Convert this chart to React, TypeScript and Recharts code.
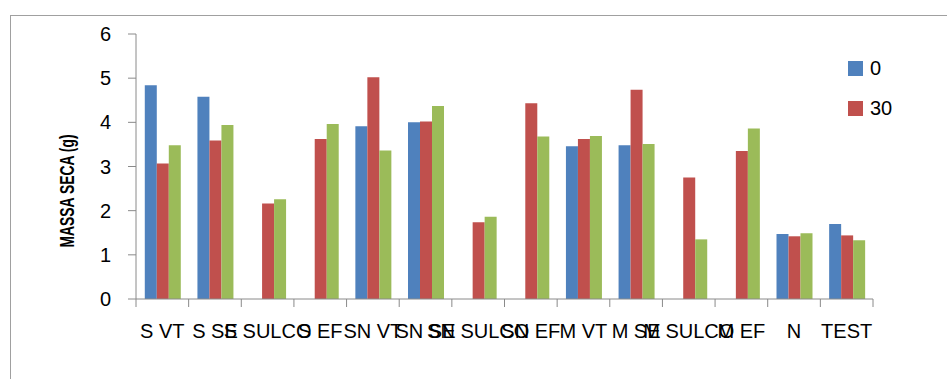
import React from "react";
import { BarChart, Bar, XAxis, YAxis } from "recharts";

// categorias e valores (g)
const categories = ["S VT", "S SE", "S SULCO", "S EF", "SN VT", "SN SE", "SN SULCO", "SN EF", "M VT", "M SE", "M SULCO", "M EF", "N", "TEST"];
const dose0 = [4.84, 4.58, null, null, 3.91, 4.0, null, null, 3.46, 3.48, null, null, 1.47, 1.7];
const dose30 = [3.07, 3.59, 2.16, 3.62, 5.02, 4.02, 1.74, 4.43, 3.62, 4.74, 2.75, 3.35, 1.42, 1.44];
const dose60 = [3.48, 3.94, 2.26, 3.96, 3.36, 4.37, 1.86, 3.68, 3.69, 3.51, 1.35, 3.86, 1.49, 1.33];
const yTicks = [0, 1, 2, 3, 4, 5, 6];
const seriesNames = ["0", "30", "60"];
const colors = ["#4F81BD", "#C0504D", "#9BBB59"];
const legendNames = ["0", "30"];

const data = categories.map((c, i) => ({ name: c, d0: dose0[i], d30: dose30[i], d60: dose60[i] }));

const axisColor = "#8a8a8a";
const font = "'Liberation Sans', Arial, sans-serif";

const CategoryTick = (props: any) => {
  const { x, y, payload, index, visibleTicksCount } = props;
  const half = payload.offset || 0;
  const y0 = y - 25;
  return (
    <g>
      <line x1={x - half} x2={x - half} y1={y0} y2={y0 + 8} stroke={axisColor} />
      {index === visibleTicksCount - 1 && (
        <line x1={x + half} x2={x + half} y1={y0} y2={y0 + 8} stroke={axisColor} />
      )}
      <text x={x} y={y} dy="0.71em" textAnchor="middle" fontSize={20} fill="#000" fontFamily={font}>
        {payload.value}
      </text>
    </g>
  );
};

const YTitle = () => (
  <text
    x={66}
    y={191}
    transform="rotate(-90 66 191)"
    textAnchor="middle"
    dominantBaseline="central"
    fontSize={21}
    fontWeight="bold"
    fontFamily="'Liberation Sans Narrow', 'Liberation Sans', Arial, sans-serif"
    textLength={113}
    lengthAdjust="spacingAndGlyphs"
    fill="#000"
  >
    MASSA SECA (g)
  </text>
);

export default function App() {
  return (
    <div style={{ position: "absolute", top: 0, left: 0, width: 947, height: 379, overflow: "hidden", background: "#fff" }}>
      <div
        style={{
          position: "absolute",
          left: 10,
          top: 15,
          width: 960,
          height: 400,
          borderTop: "1px solid #a0a0a0",
          borderLeft: "1px solid #a0a0a0",
        }}
      />
      <div style={{ position: "absolute", left: 0, top: 0 }}>
        <BarChart
          width={947}
          height={379}
          data={data}
          margin={{ top: 34, right: 74, left: 76, bottom: 40 }}
          barCategoryGap="16.7%"
          barGap={0}
        >
          <XAxis
            dataKey="name"
            interval={0}
            height={40}
            tickLine={false}
            tickSize={8}
            tickMargin={17}
            axisLine={{ stroke: axisColor }}
            tick={<CategoryTick />}
          />
          <YAxis
            width={60}
            domain={[0, 6]}
            ticks={yTicks}
            tickSize={8}
            tickMargin={17}
            axisLine={{ stroke: axisColor }}
            tickLine={{ stroke: axisColor }}
            tick={{ fontSize: 20, fill: "#000", fontFamily: font }}
            label={<YTitle />}
          />
          <Bar dataKey="d0" name={seriesNames[0]} fill={colors[0]} isAnimationActive={false} />
          <Bar dataKey="d30" name={seriesNames[1]} fill={colors[1]} isAnimationActive={false} />
          <Bar dataKey="d60" name={seriesNames[2]} fill={colors[2]} isAnimationActive={false} />
        </BarChart>
      </div>
      <div style={{ position: "absolute", left: 848, top: 55, fontFamily: font, fontSize: 20, color: "#000" }}>
        {legendNames.map((n, i) => (
          <div key={n} style={{ display: "flex", alignItems: "center", height: 26, marginBottom: 14 }}>
            <span style={{ display: "inline-block", width: 15, height: 15, background: colors[i], marginRight: 7 }} />
            <span>{n}</span>
          </div>
        ))}
      </div>
    </div>
  );
}
